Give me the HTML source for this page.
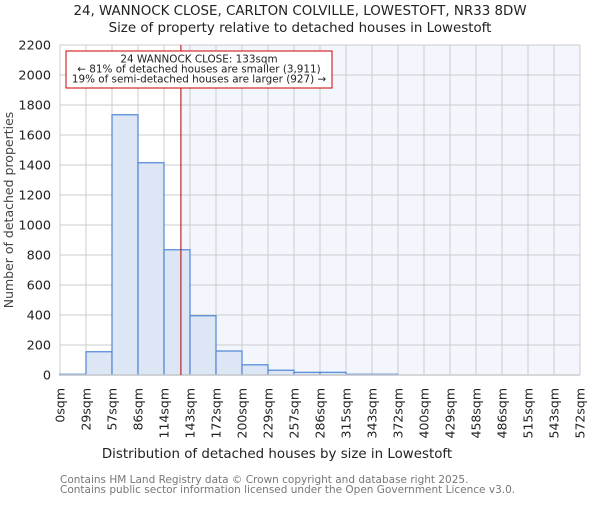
<!DOCTYPE html>
<html><head><meta charset="utf-8"><style>
body{margin:0;background:#fff;}
svg text{font-family:"DejaVu Sans","Liberation Sans",sans-serif;}
</style></head><body>
<svg id="chart" width="600" height="500" viewBox="0 0 600 500" xmlns="http://www.w3.org/2000/svg">
<text x="300" y="15" font-size="13.4" text-anchor="middle" fill="#222">24, WANNOCK CLOSE, CARLTON COLVILLE, LOWESTOFT, NR33 8DW</text>
<text x="300" y="32" font-size="13.4" text-anchor="middle" fill="#222">Size of property relative to detached houses in Lowestoft</text>
<g id="plot"></g>
<text x="277" y="458" font-size="13.4" text-anchor="middle" fill="#222">Distribution of detached houses by size in Lowestoft</text>
<text transform="translate(13,210) rotate(-90)" font-size="12.5" text-anchor="middle" fill="#444">Number of detached properties</text>
<text x="60" y="483" font-size="10.5" fill="#777">Contains HM Land Registry data © Crown copyright and database right 2025.</text>
<text x="60" y="493" font-size="10.5" fill="#777">Contains public sector information licensed under the Open Government Licence v3.0.</text>
</svg>
<script>
const binLabels=["0sqm","29sqm","57sqm","86sqm","114sqm","143sqm","172sqm","200sqm","229sqm","257sqm","286sqm","315sqm","343sqm","372sqm","400sqm","429sqm","458sqm","486sqm","515sqm","543sqm","572sqm"];
const counts=[5,155,1735,1415,835,395,160,68,32,18,18,5,5,0,0,0,0,0,0,0];
const yTicks=[0,200,400,600,800,1000,1200,1400,1600,1800,2000,2200];
const propertySize=133;
const xMax=572;
const yMax=2200;
const L=60,R=580,T=45,B=375;
const NS="http://www.w3.org/2000/svg";
const g=document.getElementById('plot');
const xs=i=>L+(R-L)*i/counts.length;
const xv=v=>L+(R-L)*v/xMax;
const ys=v=>B-(B-T)*v/yMax;
function mk(t,a){const e=document.createElementNS(NS,t);for(const k in a)e.setAttribute(k,a[k]);g.appendChild(e);return e;}
const bg=mk('rect',{x:L,y:T,width:R-L,height:B-T,fill:'#fff'});


const px=xv(propertySize);
const sh=mk('rect',{x:px,y:T,width:R-px,height:B-T,fill:'#f4f6fd'});


yTicks.forEach(v=>{
 const y=ys(v);
 const gl=mk('line',{x1:L,x2:R,y1:y,y2:y,stroke:'#ccc','stroke-width':1});
 
 
 const t=mk('text',{x:L-9,y:y+4.5,'font-size':12.8,'text-anchor':'end',fill:'#222'});
 t.textContent=v;
 
 
});
binLabels.forEach((lb,i)=>{
 const x=xs(i);
 const gl=mk('line',{x1:x,x2:x,y1:T,y2:B,stroke:'#ccc','stroke-width':1});
 
 
 const t=mk('text',{transform:`translate(${x+4.5},${388}) rotate(-90)`,'font-size':12.5,'text-anchor':'end',fill:'#222'});
 t.textContent=lb;
 
 
});
counts.forEach((c,i)=>{
 if(c<=0)return;
 const r=mk('rect',{x:xs(i),y:ys(c),width:xs(i+1)-xs(i),height:B-ys(c),fill:'#dce6f5',stroke:'#4f86d6','stroke-width':1.2});
 
 
});
const ax=mk('line',{x1:L,x2:R,y1:B,y2:B,stroke:'#ccc','stroke-width':1.5});


const ml=mk('line',{x1:px,x2:px,y1:T,y2:B,stroke:'#b00000','stroke-width':1});


const box=mk('rect',{x:66,y:51,width:266,height:37,fill:'#fff',stroke:'#c00','stroke-width':1});


["24 WANNOCK CLOSE: 133sqm","← 81% of detached houses are smaller (3,911)","19% of semi-detached houses are larger (927) →"].forEach((s,i)=>{
 const t=mk('text',{x:199,y:62.5+i*10,'font-size':10.4,'text-anchor':'middle',fill:'#222'});
 t.textContent=s;
 
 
});
</script>
</body></html>
